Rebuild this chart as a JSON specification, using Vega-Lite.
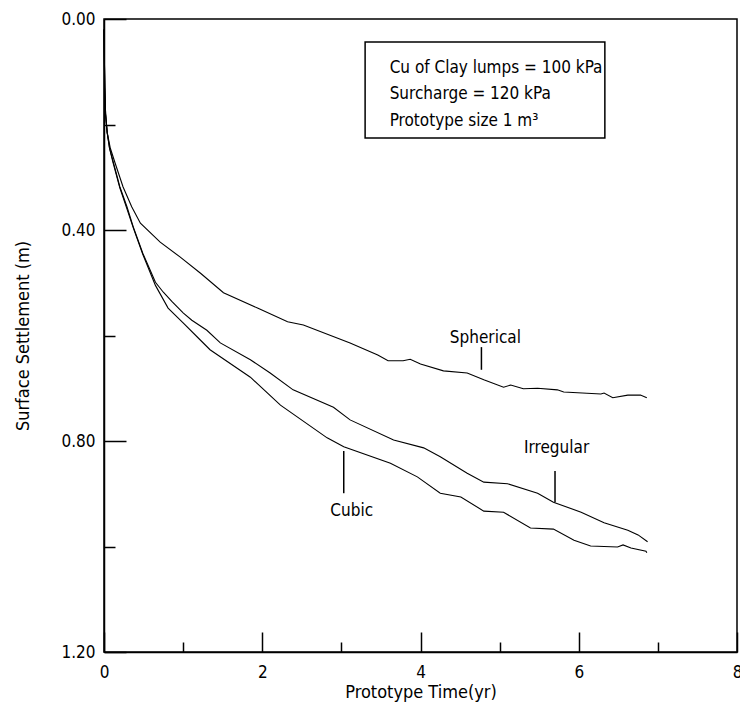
{
  "$schema": "https://vega.github.io/schema/vega-lite/v6.json",
  "width": 633,
  "height": 633,
  "autosize": {"type": "none"},
  "padding": {"left": 104, "top": 19, "right": 3, "bottom": 59},
  "background": "white",
  "config": {
    "view": {"stroke": "black", "strokeWidth": 1.5},
    "font": "DejaVu Sans Condensed",
    "axis": {
      "grid": false,
      "domainColor": "black",
      "domainWidth": 1.5,
      "tickColor": "black",
      "tickWidth": 1.5,
      "labelColor": "black",
      "titleColor": "black",
      "labelFont": "DejaVu Sans Condensed",
      "titleFont": "DejaVu Sans Condensed",
      "labelFontSize": 17,
      "titleFontSize": 18,
      "titleFontWeight": "normal"
    }
  },
  "datasets": {
    "curves": [
      {"shape": "Spherical", "t": 0.0, "s": 0.02},
      {"shape": "Spherical", "t": 0.005, "s": 0.08},
      {"shape": "Spherical", "t": 0.01, "s": 0.13},
      {"shape": "Spherical", "t": 0.02, "s": 0.18},
      {"shape": "Spherical", "t": 0.04, "s": 0.215},
      {"shape": "Spherical", "t": 0.08, "s": 0.245},
      {"shape": "Spherical", "t": 0.14, "s": 0.273},
      {"shape": "Spherical", "t": 0.24, "s": 0.318},
      {"shape": "Spherical", "t": 0.35, "s": 0.356},
      {"shape": "Spherical", "t": 0.46, "s": 0.387},
      {"shape": "Spherical", "t": 0.71, "s": 0.423},
      {"shape": "Spherical", "t": 0.96, "s": 0.451},
      {"shape": "Spherical", "t": 1.22, "s": 0.482},
      {"shape": "Spherical", "t": 1.51, "s": 0.519},
      {"shape": "Spherical", "t": 1.94, "s": 0.548},
      {"shape": "Spherical", "t": 2.32, "s": 0.574},
      {"shape": "Spherical", "t": 2.52, "s": 0.58},
      {"shape": "Spherical", "t": 3.11, "s": 0.614},
      {"shape": "Spherical", "t": 3.46, "s": 0.637},
      {"shape": "Spherical", "t": 3.59, "s": 0.648},
      {"shape": "Spherical", "t": 3.78, "s": 0.648},
      {"shape": "Spherical", "t": 3.87, "s": 0.645},
      {"shape": "Spherical", "t": 4.0, "s": 0.654},
      {"shape": "Spherical", "t": 4.29, "s": 0.667},
      {"shape": "Spherical", "t": 4.59, "s": 0.671},
      {"shape": "Spherical", "t": 4.8, "s": 0.684},
      {"shape": "Spherical", "t": 5.05, "s": 0.698},
      {"shape": "Spherical", "t": 5.14, "s": 0.694},
      {"shape": "Spherical", "t": 5.3, "s": 0.701},
      {"shape": "Spherical", "t": 5.48, "s": 0.7},
      {"shape": "Spherical", "t": 5.73, "s": 0.703},
      {"shape": "Spherical", "t": 5.81, "s": 0.707},
      {"shape": "Spherical", "t": 6.28, "s": 0.711},
      {"shape": "Spherical", "t": 6.32, "s": 0.709},
      {"shape": "Spherical", "t": 6.43, "s": 0.718},
      {"shape": "Spherical", "t": 6.62, "s": 0.713},
      {"shape": "Spherical", "t": 6.78, "s": 0.713},
      {"shape": "Spherical", "t": 6.86, "s": 0.718},

      {"shape": "Irregular", "t": 0.0, "s": 0.02},
      {"shape": "Irregular", "t": 0.005, "s": 0.08},
      {"shape": "Irregular", "t": 0.01, "s": 0.13},
      {"shape": "Irregular", "t": 0.02, "s": 0.18},
      {"shape": "Irregular", "t": 0.04, "s": 0.215},
      {"shape": "Irregular", "t": 0.07, "s": 0.245},
      {"shape": "Irregular", "t": 0.11, "s": 0.267},
      {"shape": "Irregular", "t": 0.2, "s": 0.318},
      {"shape": "Irregular", "t": 0.29, "s": 0.356},
      {"shape": "Irregular", "t": 0.37, "s": 0.394},
      {"shape": "Irregular", "t": 0.49, "s": 0.444},
      {"shape": "Irregular", "t": 0.65, "s": 0.499},
      {"shape": "Irregular", "t": 0.75, "s": 0.518},
      {"shape": "Irregular", "t": 0.86, "s": 0.536},
      {"shape": "Irregular", "t": 1.0, "s": 0.557},
      {"shape": "Irregular", "t": 1.11, "s": 0.571},
      {"shape": "Irregular", "t": 1.3, "s": 0.59},
      {"shape": "Irregular", "t": 1.47, "s": 0.614},
      {"shape": "Irregular", "t": 1.85, "s": 0.646},
      {"shape": "Irregular", "t": 2.1, "s": 0.671},
      {"shape": "Irregular", "t": 2.39, "s": 0.703},
      {"shape": "Irregular", "t": 2.9, "s": 0.736},
      {"shape": "Irregular", "t": 3.11, "s": 0.76},
      {"shape": "Irregular", "t": 3.66, "s": 0.798},
      {"shape": "Irregular", "t": 4.04, "s": 0.813},
      {"shape": "Irregular", "t": 4.25, "s": 0.83},
      {"shape": "Irregular", "t": 4.59, "s": 0.861},
      {"shape": "Irregular", "t": 4.8, "s": 0.878},
      {"shape": "Irregular", "t": 5.1, "s": 0.881},
      {"shape": "Irregular", "t": 5.48, "s": 0.899},
      {"shape": "Irregular", "t": 5.68, "s": 0.916},
      {"shape": "Irregular", "t": 6.03, "s": 0.935},
      {"shape": "Irregular", "t": 6.32, "s": 0.955},
      {"shape": "Irregular", "t": 6.62, "s": 0.969},
      {"shape": "Irregular", "t": 6.75, "s": 0.978},
      {"shape": "Irregular", "t": 6.87, "s": 0.991},

      {"shape": "Cubic", "t": 0.0, "s": 0.02},
      {"shape": "Cubic", "t": 0.005, "s": 0.08},
      {"shape": "Cubic", "t": 0.01, "s": 0.13},
      {"shape": "Cubic", "t": 0.02, "s": 0.18},
      {"shape": "Cubic", "t": 0.04, "s": 0.215},
      {"shape": "Cubic", "t": 0.07, "s": 0.245},
      {"shape": "Cubic", "t": 0.11, "s": 0.27},
      {"shape": "Cubic", "t": 0.2, "s": 0.32},
      {"shape": "Cubic", "t": 0.29, "s": 0.36},
      {"shape": "Cubic", "t": 0.37, "s": 0.396},
      {"shape": "Cubic", "t": 0.49, "s": 0.446},
      {"shape": "Cubic", "t": 0.65, "s": 0.505},
      {"shape": "Cubic", "t": 0.81, "s": 0.548},
      {"shape": "Cubic", "t": 1.0, "s": 0.576},
      {"shape": "Cubic", "t": 1.22, "s": 0.609},
      {"shape": "Cubic", "t": 1.34, "s": 0.627},
      {"shape": "Cubic", "t": 1.85, "s": 0.679},
      {"shape": "Cubic", "t": 2.23, "s": 0.732},
      {"shape": "Cubic", "t": 2.82, "s": 0.794},
      {"shape": "Cubic", "t": 3.03, "s": 0.811},
      {"shape": "Cubic", "t": 3.62, "s": 0.842},
      {"shape": "Cubic", "t": 3.96, "s": 0.868},
      {"shape": "Cubic", "t": 4.25, "s": 0.899},
      {"shape": "Cubic", "t": 4.51, "s": 0.906},
      {"shape": "Cubic", "t": 4.8, "s": 0.933},
      {"shape": "Cubic", "t": 5.05, "s": 0.935},
      {"shape": "Cubic", "t": 5.39, "s": 0.965},
      {"shape": "Cubic", "t": 5.68, "s": 0.967},
      {"shape": "Cubic", "t": 5.94, "s": 0.988},
      {"shape": "Cubic", "t": 6.15, "s": 0.999},
      {"shape": "Cubic", "t": 6.49, "s": 1.001},
      {"shape": "Cubic", "t": 6.56, "s": 0.997},
      {"shape": "Cubic", "t": 6.66, "s": 1.003},
      {"shape": "Cubic", "t": 6.85, "s": 1.009},
      {"shape": "Cubic", "t": 6.86, "s": 1.012}
    ],
    "labels": [
      {"label": "Spherical", "t": 4.82, "s": 0.605, "lt": 4.77, "ls1": 0.622, "ls2": 0.665},
      {"label": "Irregular", "t": 5.72, "s": 0.813, "lt": 5.7, "ls1": 0.857, "ls2": 0.916},
      {"label": "Cubic", "t": 3.13, "s": 0.933, "lt": 3.03, "ls1": 0.819, "ls2": 0.899}
    ],
    "box": [
      {"x1": 3.3, "x2": 6.33, "y1": 0.0436, "y2": 0.2256}
    ],
    "notes": [
      {"text": "Cu of Clay lumps = 100 kPa", "t": 3.61, "s": 0.093},
      {"text": "Surcharge = 120 kPa", "t": 3.61, "s": 0.143},
      {"text": "Prototype size 1 m³", "t": 3.61, "s": 0.193}
    ]
  },
  "layer": [
    {
      "data": {"name": "curves"},
      "mark": {"type": "line", "color": "black", "strokeWidth": 1.1},
      "encoding": {
        "x": {
          "field": "t", "type": "quantitative",
          "scale": {"domain": [0, 8], "nice": false, "zero": false},
          "axis": {
            "title": "Prototype Time(yr)",
            "values": [0, 1, 2, 3, 4, 5, 6, 7, 8],
            "format": "d",
            "labelExpr": "datum.value % 2 === 0 ? datum.label : ''",
            "tickSize": {"condition": {"test": "datum.value % 2 === 0", "value": -20}, "value": -10},
            "labelPadding": 32,
            "labelFlush": false,
            "labelOverlap": false,
            "titlePadding": -7
          }
        },
        "y": {
          "field": "s", "type": "quantitative",
          "scale": {"domain": [0, 1.2], "reverse": true, "nice": false, "zero": false},
          "axis": {
            "title": "Surface Settlement (m)",
            "values": [0, 0.2, 0.4, 0.6, 0.8, 1.0, 1.2],
            "format": ".2f",
            "labelExpr": "round(datum.value * 10) % 4 === 0 ? datum.label : ''",
            "tickSize": {"condition": {"test": "round(datum.value * 10) % 4 === 0", "value": -22}, "value": -11},
            "labelPadding": 31,
            "labelFlush": false,
            "labelOverlap": false,
            "titlePadding": 28
          }
        },
        "detail": {"field": "shape"}
      }
    },
    {
      "data": {"name": "box"},
      "mark": {"type": "rect", "fill": "white", "stroke": "black", "strokeWidth": 1.5},
      "encoding": {
        "x": {"field": "x1", "type": "quantitative"},
        "x2": {"field": "x2"},
        "y": {"field": "y1", "type": "quantitative"},
        "y2": {"field": "y2"}
      }
    },
    {
      "data": {"name": "notes"},
      "mark": {"type": "text", "align": "left", "baseline": "middle", "fontSize": 17, "font": "DejaVu Sans Condensed", "color": "black"},
      "encoding": {
        "x": {"field": "t", "type": "quantitative"},
        "y": {"field": "s", "type": "quantitative"},
        "text": {"field": "text"}
      }
    },
    {
      "data": {"name": "labels"},
      "mark": {"type": "text", "align": "center", "baseline": "middle", "fontSize": 17, "font": "DejaVu Sans Condensed", "color": "black"},
      "encoding": {
        "x": {"field": "t", "type": "quantitative"},
        "y": {"field": "s", "type": "quantitative"},
        "text": {"field": "label"}
      }
    },
    {
      "data": {"name": "labels"},
      "mark": {"type": "rule", "color": "black", "strokeWidth": 1.5},
      "encoding": {
        "x": {"field": "lt", "type": "quantitative"},
        "y": {"field": "ls1", "type": "quantitative"},
        "y2": {"field": "ls2"}
      }
    }
  ]
}
